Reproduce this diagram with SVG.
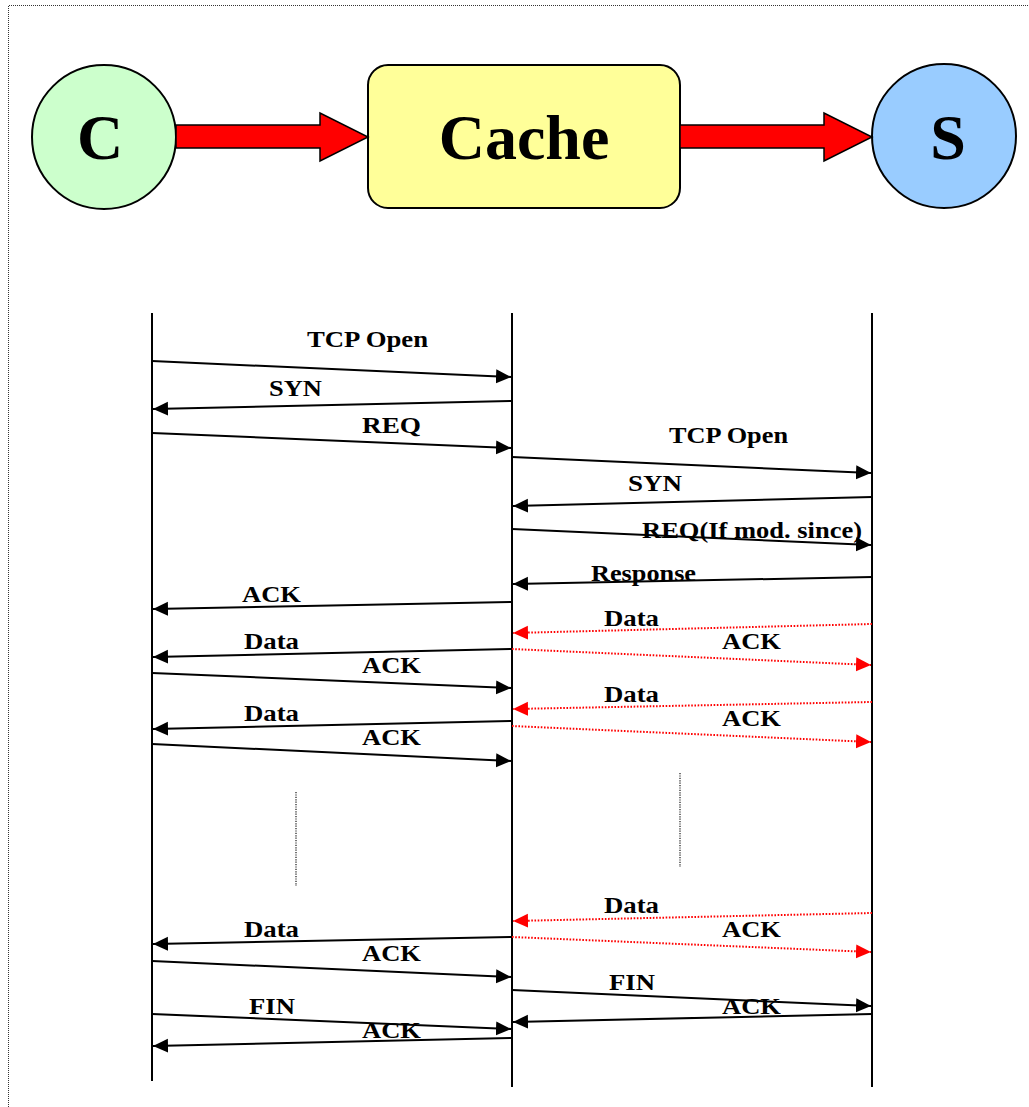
<svg xmlns="http://www.w3.org/2000/svg" width="1029" height="1107" viewBox="0 0 1029 1107">
  <style>
    .frame { stroke: #333; stroke-width: 1; stroke-dasharray: 1 1; fill: none; shape-rendering: crispEdges; }
    .node { stroke: #000; stroke-width: 2; }
    .big { font-family: "Liberation Serif", "Times New Roman", serif; font-weight: bold; font-size: 64px; fill: #000; text-anchor: middle; }
    .flow { fill: #FF0000; stroke: #000; stroke-width: 1.5; stroke-linejoin: miter; }
    .life { stroke: #000; stroke-width: 2; }
    .msg { stroke: #000; stroke-width: 2; fill: none; marker-end: url(#head); }
    .msg-r { stroke: #FF0000; stroke-width: 2; fill: none; stroke-dasharray: 1.6 1.6; marker-end: url(#head-r); }
    .gap { stroke: #444; stroke-width: 1.5; stroke-dasharray: 1.2 1.2; }
    .lbl { font-family: "Liberation Serif", "Times New Roman", serif; font-weight: bold; font-size: 24px; fill: #000; }
  </style>
  <defs>
    <marker id="head" markerUnits="userSpaceOnUse" markerWidth="16" markerHeight="15" refX="15" refY="7" orient="auto">
      <path d="M0,0 L15,7 L0,14 z" fill="#000"/>
    </marker>
    <marker id="head-r" markerUnits="userSpaceOnUse" markerWidth="16" markerHeight="15" refX="15" refY="7" orient="auto">
      <path d="M0,0 L15,7 L0,14 z" fill="#FF0000"/>
    </marker>
  </defs>

  <rect width="1029" height="1107" fill="#fff"/>

  <!-- dotted frame -->
  <path class="frame" d="M8.5,1107 L8.5,5.5 L1029,5.5"/>

  <!-- top row: client, cache, server -->
  <g id="node-client">
    <circle class="node" cx="104" cy="137" r="72" fill="#CCFFCC"/>
    <text class="big" x="100" y="159">C</text>
  </g>
  <g id="node-cache">
    <rect class="node" x="368" y="65" width="312" height="143" rx="20" ry="20" fill="#FFFF99"/>
    <text class="big" x="524" y="159">Cache</text>
  </g>
  <g id="node-server">
    <circle class="node" cx="944" cy="136" r="72" fill="#99CCFF"/>
    <text class="big" x="948" y="159">S</text>
  </g>

  <g id="flow-arrows">
    <path class="flow" d="M176,125 L320,125 L320,113 L368,137 L320,161 L320,148 L176,148 z"/>
    <path class="flow" d="M680,125 L824,125 L824,113 L872,137 L824,161 L824,148 L680,148 z"/>
  </g>

  <!-- lifelines -->
  <g id="lifelines">
    <line class="life" x1="152" y1="313" x2="152" y2="1081"/>
    <line class="life" x1="512" y1="313" x2="512" y2="1087"/>
    <line class="life" x1="872" y1="313" x2="872" y2="1087"/>
  </g>

  <!-- message arrows -->
  <g id="connectors">
    <line class="msg" x1="152" y1="361" x2="511" y2="377"/>
    <line class="msg" x1="511" y1="401" x2="153" y2="409"/>
    <line class="msg" x1="152" y1="433" x2="511" y2="448"/>
    <line class="msg" x1="512" y1="457" x2="871" y2="473"/>
    <line class="msg" x1="872" y1="497" x2="513" y2="506"/>
    <line class="msg" x1="512" y1="529" x2="871" y2="545"/>
    <line class="msg" x1="872" y1="577" x2="513" y2="584"/>
    <line class="msg" x1="511" y1="602" x2="153" y2="609"/>
    <line class="msg-r" x1="872" y1="624" x2="513" y2="633"/>
    <line class="msg" x1="511" y1="649" x2="153" y2="657"/>
    <line class="msg-r" x1="512" y1="649" x2="871" y2="665"/>
    <line class="msg" x1="152" y1="673" x2="511" y2="688"/>
    <line class="msg-r" x1="872" y1="702" x2="513" y2="709"/>
    <line class="msg" x1="511" y1="721" x2="153" y2="729"/>
    <line class="msg-r" x1="512" y1="726" x2="871" y2="742"/>
    <line class="msg" x1="152" y1="744" x2="511" y2="761"/>
    <line class="msg-r" x1="872" y1="913" x2="513" y2="921"/>
    <line class="msg" x1="511" y1="937" x2="153" y2="944"/>
    <line class="msg-r" x1="512" y1="937" x2="871" y2="952"/>
    <line class="msg" x1="152" y1="961" x2="511" y2="977"/>
    <line class="msg" x1="512" y1="990" x2="871" y2="1006"/>
    <line class="msg" x1="872" y1="1014" x2="513" y2="1022"/>
    <line class="msg" x1="152" y1="1014" x2="511" y2="1029"/>
    <line class="msg" x1="511" y1="1038" x2="153" y2="1046"/>
    <!-- elided exchanges -->
    <line class="gap" x1="296" y1="792" x2="296" y2="886"/>
    <line class="gap" x1="680" y1="773" x2="680" y2="867"/>
  </g>

  <!-- message labels -->
  <g id="labels">
    <text class="lbl" x="307" y="347" textLength="121" lengthAdjust="spacingAndGlyphs">TCP Open</text>
    <text class="lbl" x="269" y="396" textLength="53" lengthAdjust="spacingAndGlyphs">SYN</text>
    <text class="lbl" x="362" y="433" textLength="59" lengthAdjust="spacingAndGlyphs">REQ</text>
    <text class="lbl" x="669" y="443" textLength="119" lengthAdjust="spacingAndGlyphs">TCP Open</text>
    <text class="lbl" x="628" y="491" textLength="54" lengthAdjust="spacingAndGlyphs">SYN</text>
    <text class="lbl" x="642" y="538" textLength="220" lengthAdjust="spacingAndGlyphs">REQ(If mod. since)</text>
    <text class="lbl" x="591" y="581" textLength="105" lengthAdjust="spacingAndGlyphs">Response</text>
    <text class="lbl" x="242" y="602" textLength="59" lengthAdjust="spacingAndGlyphs">ACK</text>
    <text class="lbl" x="604" y="626" textLength="55" lengthAdjust="spacingAndGlyphs">Data</text>
    <text class="lbl" x="244" y="649" textLength="55" lengthAdjust="spacingAndGlyphs">Data</text>
    <text class="lbl" x="722" y="649" textLength="59" lengthAdjust="spacingAndGlyphs">ACK</text>
    <text class="lbl" x="362" y="673" textLength="59" lengthAdjust="spacingAndGlyphs">ACK</text>
    <text class="lbl" x="604" y="702" textLength="55" lengthAdjust="spacingAndGlyphs">Data</text>
    <text class="lbl" x="244" y="721" textLength="55" lengthAdjust="spacingAndGlyphs">Data</text>
    <text class="lbl" x="722" y="726" textLength="59" lengthAdjust="spacingAndGlyphs">ACK</text>
    <text class="lbl" x="362" y="745" textLength="59" lengthAdjust="spacingAndGlyphs">ACK</text>
    <text class="lbl" x="604" y="913" textLength="55" lengthAdjust="spacingAndGlyphs">Data</text>
    <text class="lbl" x="722" y="937" textLength="59" lengthAdjust="spacingAndGlyphs">ACK</text>
    <text class="lbl" x="244" y="937" textLength="55" lengthAdjust="spacingAndGlyphs">Data</text>
    <text class="lbl" x="362" y="961" textLength="59" lengthAdjust="spacingAndGlyphs">ACK</text>
    <text class="lbl" x="609" y="990" textLength="46" lengthAdjust="spacingAndGlyphs">FIN</text>
    <text class="lbl" x="722" y="1014" textLength="59" lengthAdjust="spacingAndGlyphs">ACK</text>
    <text class="lbl" x="249" y="1014" textLength="46" lengthAdjust="spacingAndGlyphs">FIN</text>
    <text class="lbl" x="362" y="1038" textLength="59" lengthAdjust="spacingAndGlyphs">ACK</text>
  </g>
</svg>
